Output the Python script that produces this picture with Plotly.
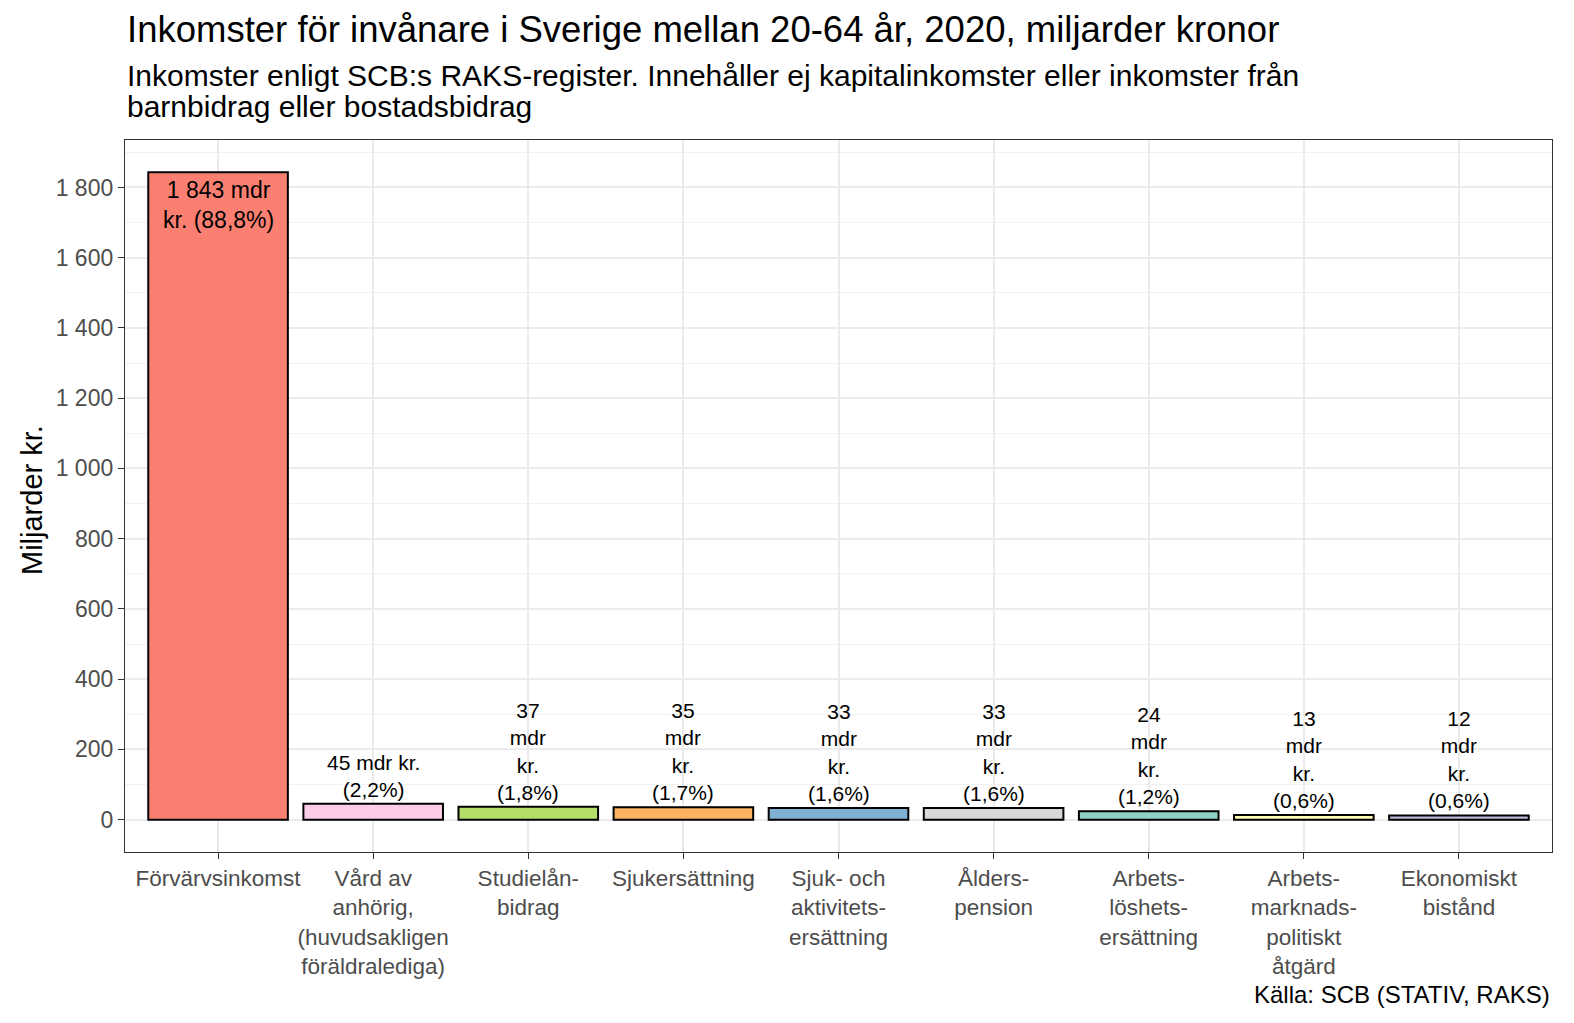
import plotly.graph_objects as go

categories = [
    "Förvärvsinkomst",
    "Vård av<br>anhörig,<br>(huvudsakligen<br>föräldralediga)",
    "Studielån-<br>bidrag",
    "Sjukersättning",
    "Sjuk- och<br>aktivitets-<br>ersättning",
    "Ålders-<br>pension",
    "Arbets-<br>löshets-<br>ersättning",
    "Arbets-<br>marknads-<br>politiskt<br>åtgärd",
    "Ekonomiskt<br>bistånd",
]
values = [1843, 45, 37, 35, 33, 33, 24, 13, 12]
percents = [88.8, 2.2, 1.8, 1.7, 1.6, 1.6, 1.2, 0.6, 0.6]
colors = ["#FB8072", "#FCCDE5", "#B3DE69", "#FDB462", "#80B1D3",
          "#D9D9D9", "#8DD3C7", "#FFFFB3", "#BEBADA"]
y_ticks = [0, 200, 400, 600, 800, 1000, 1200, 1400, 1600, 1800]

title = "Inkomster för invånare i Sverige mellan 20-64 år, 2020, miljarder kronor"
subtitle1 = "Inkomster enligt SCB:s RAKS-register. Innehåller ej kapitalinkomster eller inkomster från"
subtitle2 = "barnbidrag eller bostadsbidrag"
caption = "Källa: SCB (STATIV, RAKS)"
y_title = "Miljarder kr."

FONT = "Liberation Sans, Arial, sans-serif"
W, H = 1574, 1023
ML, MR, MT, MB = 125, 22, 140, 171
PH = H - MT - MB
PW = W - ML - MR


def py(abs_px):
    return (H - MB - abs_px) / PH


def px(abs_px):
    return (abs_px - ML) / PW


def fmt_num(v):
    return f"{v:,}".replace(",", " ")


def fmt_pct(p):
    return f"{p:.1f}".replace(".", ",") + "%"


fig = go.Figure()
fig.add_trace(go.Bar(
    x=list(range(len(categories))),
    y=values,
    width=0.9,
    marker=dict(color=colors, line=dict(color="black", width=2)),
    hoverinfo="skip",
))

annotations = []
for i, (v, p) in enumerate(zip(values, percents)):
    if i == 0:
        txt = f"{fmt_num(v)} mdr<br>kr. ({fmt_pct(p)})"
        annotations.append(dict(x=i, y=v, xref="x", yref="y", text=txt, showarrow=False,
                                yanchor="top", yshift=-3,
                                font=dict(family=FONT, size=23, color="black")))
    elif i == 1:
        txt = f"{fmt_num(v)} mdr kr.<br>({fmt_pct(p)})"
        annotations.append(dict(x=i, y=v, xref="x", yref="y", text=txt, showarrow=False,
                                yanchor="bottom", yshift=1,
                                font=dict(family=FONT, size=21, color="black")))
    else:
        txt = f"{fmt_num(v)}<br>mdr<br>kr.<br>({fmt_pct(p)})"
        annotations.append(dict(x=i, y=v, xref="x", yref="y", text=txt, showarrow=False,
                                yanchor="bottom", yshift=1,
                                font=dict(family=FONT, size=21, color="black")))

annotations += [
    dict(x=px(125), y=py(30), xref="paper", yref="paper", text=title, showarrow=False,
         xanchor="left", yanchor="middle", font=dict(family=FONT, size=36.5, color="black")),
    dict(x=px(125), y=py(75), xref="paper", yref="paper", text=subtitle1, showarrow=False,
         xanchor="left", yanchor="middle", font=dict(family=FONT, size=30, color="black")),
    dict(x=px(125), y=py(107), xref="paper", yref="paper", text=subtitle2, showarrow=False,
         xanchor="left", yanchor="middle", font=dict(family=FONT, size=30, color="black")),
    dict(x=px(1552), y=py(995), xref="paper", yref="paper", text=caption, showarrow=False,
         xanchor="right", yanchor="middle", font=dict(family=FONT, size=24, color="black")),
    dict(x=px(32), y=py(500), xref="paper", yref="paper", text=y_title, showarrow=False,
         textangle=-90, xanchor="center", yanchor="middle",
         font=dict(family=FONT, size=29, color="black")),
]

fig.update_layout(
    width=W, height=H,
    margin=dict(l=ML, r=MR, t=MT, b=MB, autoexpand=False),
    paper_bgcolor="white", plot_bgcolor="white",
    showlegend=False,
    separators=", ",
    font=dict(family=FONT),
    annotations=annotations,
    bargap=0.1,
)
fig.update_xaxes(
    range=[-0.6, 8.6],
    tickvals=list(range(len(categories))),
    ticktext=categories,
    tickangle=0,
    tickfont=dict(family=FONT, size=22.5, color="#4D4D4D"),
    ticks="outside", ticklen=6, tickcolor="#333333", tickwidth=1.3,
    showgrid=True, gridcolor="#EBEBEB", gridwidth=1.5,
    showline=True, mirror=True, linecolor="#333333", linewidth=1.3,
    zeroline=False,
)
fig.update_yaxes(
    range=[-92.15, 1935.15],
    tickvals=y_ticks,
    ticktext=[fmt_num(t) for t in y_ticks],
    tickfont=dict(family=FONT, size=23, color="#4D4D4D"),
    ticks="outside", ticklen=6, tickcolor="#333333", tickwidth=1.3,
    showgrid=True, gridcolor="#EBEBEB", gridwidth=1.5,
    minor=dict(dtick=100, tick0=0, showgrid=True, gridcolor="#F2F2F2", gridwidth=1, ticks=""),
    showline=True, mirror=True, linecolor="#333333", linewidth=1.3,
    zeroline=False,
)

fig.write_html(
    "out.html",
    config={"displayModeBar": False},
    post_script="document.body.style.margin='0';document.body.style.overflow='hidden';",
)
